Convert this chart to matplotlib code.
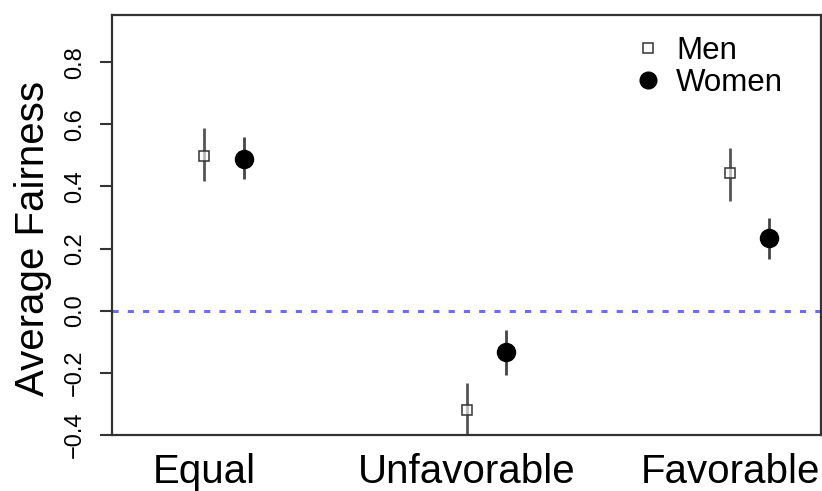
import matplotlib
matplotlib.use('Agg')
import matplotlib.pyplot as plt
from matplotlib.lines import Line2D
import numpy as np

# data
categories = ['Equal', 'Unfavorable', 'Favorable']
men_mean = [0.497, -0.319, 0.442]
men_low = [0.419, -0.41, 0.352]
men_high = [0.587, -0.232, 0.523]
women_mean = [0.490, -0.132, 0.235]
women_low = [0.423, -0.206, 0.165]
women_high = [0.558, -0.061, 0.297]

plt.rcParams['font.family'] = ['Liberation Sans', 'DejaVu Sans']

fig = plt.figure(figsize=(8.22, 4.91), dpi=100)
ax = fig.add_axes([0.1363, 0.114, 0.8625, 0.8555])

x = np.arange(1, len(categories) + 1)
x_women = x + 0.15

# zero reference line
ax.axhline(0, color='#6b6bff', lw=2.2, linestyle=(0, (2, 3)), zorder=1)

# error bars
ax.vlines(x, men_low, men_high, color='#555555', lw=2, zorder=2)
ax.vlines(x_women, women_low, women_high, color='#444444', lw=2, zorder=2)

# points
ax.plot(x, men_mean, linestyle='none', marker='s', markersize=7.5,
        markerfacecolor=(1, 1, 1, 0.6), markeredgecolor='#333333',
        markeredgewidth=1.1, zorder=3)
ax.plot(x_women, women_mean, linestyle='none', marker='o', markersize=13,
        color='black', zorder=3)

ax.set_xlim(0.65, 3.346)
ax.set_ylim(-0.4, 0.952)

ax.set_xticks(x)
ax.set_xticklabels(categories, fontsize=29)
ax.tick_params(axis='x', length=0, pad=13)

ax.set_yticks([-0.4, -0.2, 0.0, 0.2, 0.4, 0.6, 0.8])
ax.set_yticklabels(['\u22120.4', '\u22120.2', '0.0', '0.2', '0.4', '0.6', '0.8'],
                   rotation=90, va='center', fontsize=17)
ax.tick_params(axis='y', length=8.6, width=1.5, color='#333333', pad=10)
ax.set_ylabel('Average Fairness', fontsize=29)
ax.yaxis.set_label_coords(-0.085, 0.467)

for s in ax.spines.values():
    s.set_linewidth(1.6)
    s.set_color('#333333')

handles = [
    Line2D([], [], linestyle='none', marker='s', markersize=7.5,
           markerfacecolor='white', markeredgecolor='#333333', markeredgewidth=1.1),
    Line2D([], [], linestyle='none', marker='o', markersize=12, color='black'),
]
ax.legend(handles, ['Men', 'Women'], loc='upper right', frameon=False,
          fontsize=22.5, labelspacing=0.05, handlelength=0.8,
          handletextpad=0.5, bbox_to_anchor=(0.986, 1.016))

fig.savefig('out.png', dpi=100)
